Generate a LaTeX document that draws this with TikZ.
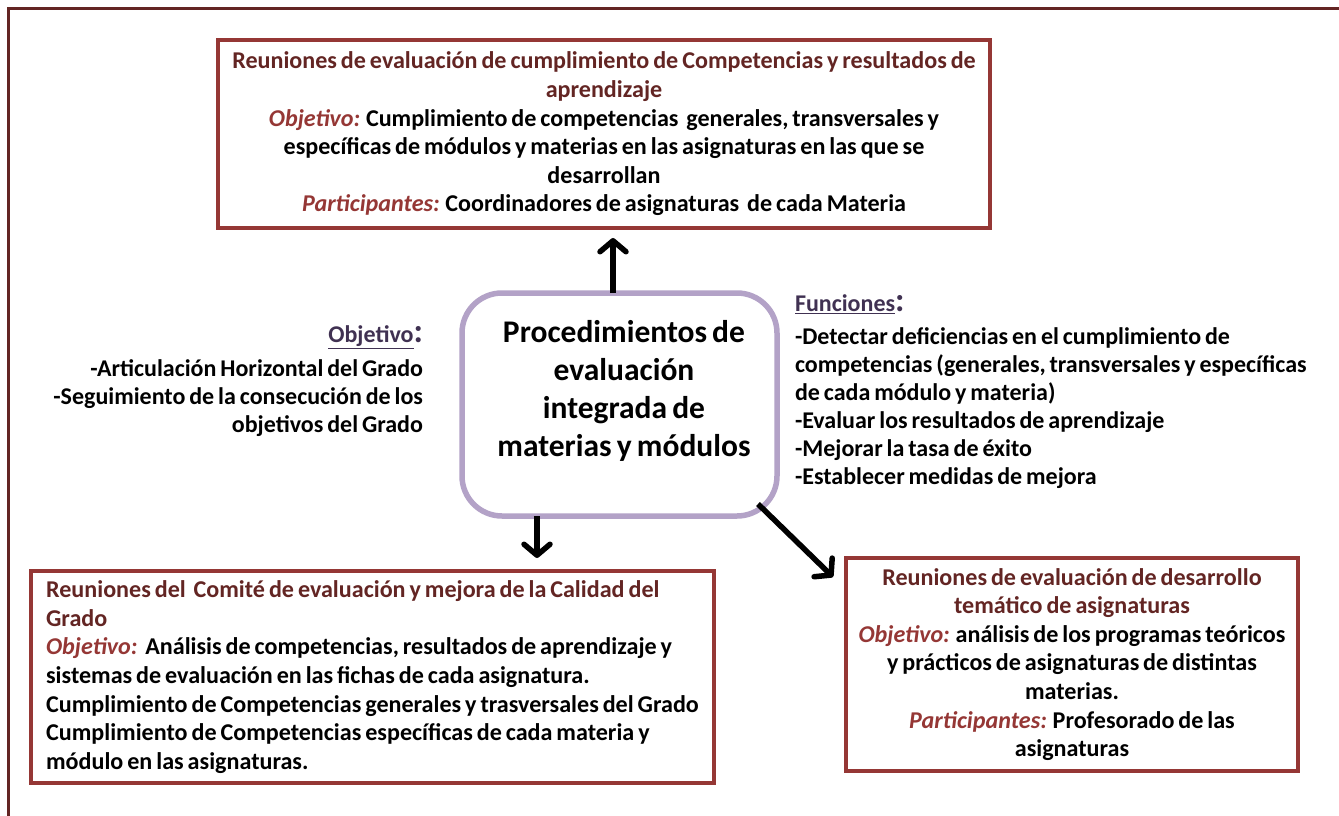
\documentclass[tikz,border=0pt]{standalone}
\usepackage{fontspec}
\setmainfont{Carlito}[WordSpace=0.72]
\usetikzlibrary{arrows.meta,shadows,calc}
\definecolor{frameC}{HTML}{632523}
\definecolor{boxC}{HTML}{953735}
\definecolor{titleC}{HTML}{632523}
\definecolor{objC}{HTML}{953735}
\definecolor{labC}{HTML}{403152}
\definecolor{centC}{HTML}{B3A2C7}
\newcommand\myfontA{\fontsize{24.1}{28.6}\selectfont\bfseries}
\newcommand\myfontS{\fontsize{24}{28}\selectfont\bfseries}
\newcommand\myfontB{\fontsize{31.5}{38}\selectfont\bfseries}
\newcommand\myobj[1]{{\itshape\color{objC}#1}}
\newcommand\mytitle[1]{\textcolor{titleC}{#1}}
\newcommand\mylab[1]{{\color{labC}\underline{#1}{\fontsize{34}{34}\selectfont:}}}
\begin{document}
\begin{tikzpicture}[x=1pt,y=1pt,
  redbox/.style={draw=boxC, line width=3.5pt, fill=white, inner sep=0pt, outer sep=0pt,
    drop shadow={shadow xshift=1.5pt, shadow yshift=-1.5pt, fill=black, opacity=0.25},
    font=\myfontA},
  plaintext/.style={inner sep=0pt, outer sep=0pt, font=\myfontS},
  arr/.style={line width=5.5pt, -{Straight Barb[round, length=11pt, width=26pt]}}]
\useasboundingbox (0,0) rectangle (1339,-816);
\clip (0,0) rectangle (1339,-816);
\fill[white] (0,0) rectangle (1339,-816);
% outer frame
\draw[frameC, line width=3.5pt] (8.5,-830) -- (8.5,-8.5) -- (1350,-8.5);

% top box
\node[redbox, minimum width=772pt, minimum height=188pt, align=center]
  (top) at (604,-134) {\mytitle{Reuniones de evaluación de cumplimiento de Competencias y resultados de}\\
  \mytitle{aprendizaje}\\
  \myobj{Objetivo:} Cumplimiento de competencias\ \ generales, transversales y\\
  específicas de módulos y materias en las asignaturas en las que se\\
  desarrollan\\
  \myobj{Participantes:} Coordinadores de asignaturas\ \ de cada Materia};

% bottom left box
\node[redbox, minimum width=683pt, minimum height=212pt, align=left]
  (bl) at (372.5,-677) {\mytitle{Reuniones del\ \ Comité de evaluación y mejora de la Calidad del}\\
  \mytitle{Grado}\\
  \myobj{Objetivo:}\ \ Análisis de competencias, resultados de aprendizaje y\\
  sistemas de evaluación en las fichas de cada asignatura.\\
  Cumplimiento de Competencias generales y trasversales del Grado\\
  Cumplimiento de Competencias específicas de cada materia y\\
  módulo en las asignaturas.};

% bottom right box
\node[redbox, minimum width=452pt, minimum height=213pt, align=center]
  (br) at (1072,-664.5) {\mytitle{Reuniones de evaluación de desarrollo}\\
  \mytitle{temático de asignaturas}\\
  \myobj{Objetivo:} análisis de los programas teóricos\\
  y prácticos de asignaturas de distintas\\
  materias.\\
  \myobj{Participantes:} Profesorado de las\\
  asignaturas};

% center box
\node[draw=centC, line width=5.5pt, rounded corners=40pt, fill=white, inner sep=0pt, outer sep=0pt,
  minimum width=315pt, minimum height=223pt] (c) at (619.5,-404.5) {};
\node[inner sep=0pt, font=\myfontB, align=center] (ctext) at (624,-391)
  {Procedimientos de\\ evaluación\\ integrada de\\ materias y módulos};

% left text
\node[plaintext, anchor=east] (objlab) at (423,-337) {\mylab{Objetivo}};
\node[plaintext, anchor=east, align=right] (objtxt) at (423,-398)
  {-Articulación Horizontal del Grado\\ -Seguimiento de la consecución de los\\ objetivos del Grado};

% right text
\node[plaintext, anchor=west] (funlab) at (795,-304) {\mylab{Funciones}};
\node[plaintext, anchor=west, align=left] (funtxt) at (795,-408)
  {-Detectar deficiencias en el cumplimiento de\\
   competencias (generales, transversales y específicas\\
   de cada módulo y materia)\\
   -Evaluar los resultados de aprendizaje\\
   -Mejorar la tasa de éxito\\
   -Establecer medidas de mejora};

% arrows
\draw[arr, shorten >=10pt] ([xshift=-6.5pt]c.north) -- ([xshift=9pt]top.south);
\draw[arr, shorten >=13pt] ([xshift=-82.5pt]c.south) -- ([xshift=164.5pt]bl.north);
\draw[arr] ([shift={(-19pt,12pt)}]c.south east) -- ([shift={(-13pt,-19pt)}]br.north west);
\end{tikzpicture}
\end{document}
